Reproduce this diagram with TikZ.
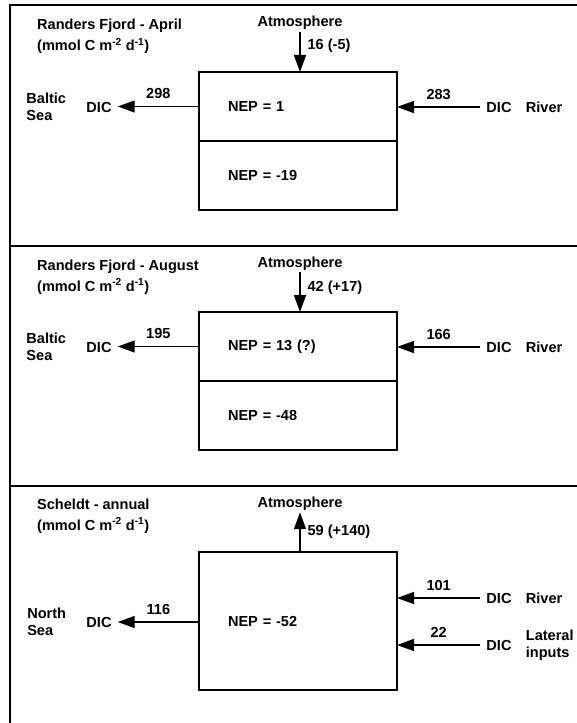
\documentclass[tikz,border=0pt]{standalone}
\usepackage{fontspec}
\setmainfont{Liberation Sans}
\usetikzlibrary{positioning, arrows.meta}

\begin{document}
\begin{tikzpicture}[
    x=1bp, y=-1bp,
    every node/.style={font=\bfseries\fontsize{14.6}{17}\selectfont, inner sep=2bp},
    frame/.style={line width=1.8bp},
    halfbox/.style={rectangle, draw, line width=1.3bp, outer sep=0pt, minimum width=198bp, minimum height=69bp, inner xsep=29bp, text width=140bp, align=left},
    fullbox/.style={halfbox, minimum height=138bp},
    dic/.style={inner xsep=6bp},
    side/.style={align=left},
    flux/.style={above=5bp},
    arrow/.style={-{Triangle[length=17bp, width=12bp]}, line width=1.3bp}
]
\useasboundingbox (0,0) rectangle (577,723);

% === PANEL FRAME ===
\draw[frame] (577,5) -- (10,5) -- (10,723);
\draw[frame] (10,246) -- (577,246);
\draw[frame] (10,486) -- (577,486);

% === RANDERS FJORD - APRIL ===
\node[anchor=base west] (title1) at (35,30) {Randers Fjord - April};
\node[anchor=base west] (unit1) at (35,51) {(mmol C m\textsuperscript{-2} d\textsuperscript{-1})};
\node[anchor=base] (atm1) at (300,27) {Atmosphere};
\node[halfbox] (nep1a) at (298,106.5) {NEP = 1};
\node[halfbox, below=0pt of nep1a] (nep1b) {NEP = -19};

\node[dic] (dicL1) at (99,107) {DIC};
\node[side, left=12bp of dicL1] (sea1) {Baltic\\Sea};
\node[dic] (dicR1) at (499,107) {DIC};
\node[right=6bp of dicR1] (river1) {River};

% April fluxes
\draw[arrow] (atm1.south) -- (atm1.south |- nep1a.north) node[pos=0.33, right=5bp] {16 (-5)};
\draw[arrow] (nep1a.west) -- (nep1a.west -| dicL1.east) node[midway, flux] {298};
\draw[arrow] (dicR1.west) -- (dicR1.west -| nep1a.east) node[midway, flux] {283};

% === RANDERS FJORD - AUGUST ===
\node[anchor=base west] (title2) at (35,270) {Randers Fjord - August};
\node[anchor=base west] (unit2) at (35,291) {(mmol C m\textsuperscript{-2} d\textsuperscript{-1})};
\node[anchor=base] (atm2) at (300,267) {Atmosphere};
\node[halfbox] (nep2a) at (298,346.5) {NEP = 13 (?)};
\node[halfbox, below=0pt of nep2a] (nep2b) {NEP = -48};

\node[dic] (dicL2) at (99,347) {DIC};
\node[side, left=12bp of dicL2] (sea2) {Baltic\\Sea};
\node[dic] (dicR2) at (499,347) {DIC};
\node[right=6bp of dicR2] (river2) {River};

% August fluxes
\draw[arrow] (atm2.south) -- (atm2.south |- nep2a.north) node[pos=0.38, right=5bp] {42 (+17)};
\draw[arrow] (nep2a.west) -- (nep2a.west -| dicL2.east) node[midway, flux] {195};
\draw[arrow] (dicR2.west) -- (dicR2.west -| nep2a.east) node[midway, flux] {166};

% === SCHELDT - ANNUAL ===
\node[anchor=base west] (title3) at (35,509) {Scheldt - annual};
\node[anchor=base west] (unit3) at (35,530) {(mmol C m\textsuperscript{-2} d\textsuperscript{-1})};
\node[anchor=base] (atm3) at (300,507) {Atmosphere};
\node[fullbox] (nep3) at (298,621) {NEP = -52};

\node[dic] (dicL3) at (99,622) {DIC};
\node[side, left=12bp of dicL3] (sea3) {North\\Sea};
\node[dic] (dicR3a) at (499,598) {DIC};
\node[right=6bp of dicR3a] (river3) {River};
\node[dic] (dicR3b) at (499,645) {DIC};
\node[side, right=6bp of dicR3b] (lateral3) {Lateral\\inputs};

% Annual fluxes
\draw[arrow] (atm3.south |- nep3.north) -- (atm3.south) node[midway, right=5bp] {59 (+140)};
\draw[arrow] (nep3.west |- dicL3.east) -- (dicL3.east) node[midway, flux] {116};
\draw[arrow] (dicR3a.west) -- (dicR3a.west -| nep3.east) node[midway, flux] {101};
\draw[arrow] (dicR3b.west) -- (dicR3b.west -| nep3.east) node[midway, flux] {22};

\end{tikzpicture}
\end{document}
